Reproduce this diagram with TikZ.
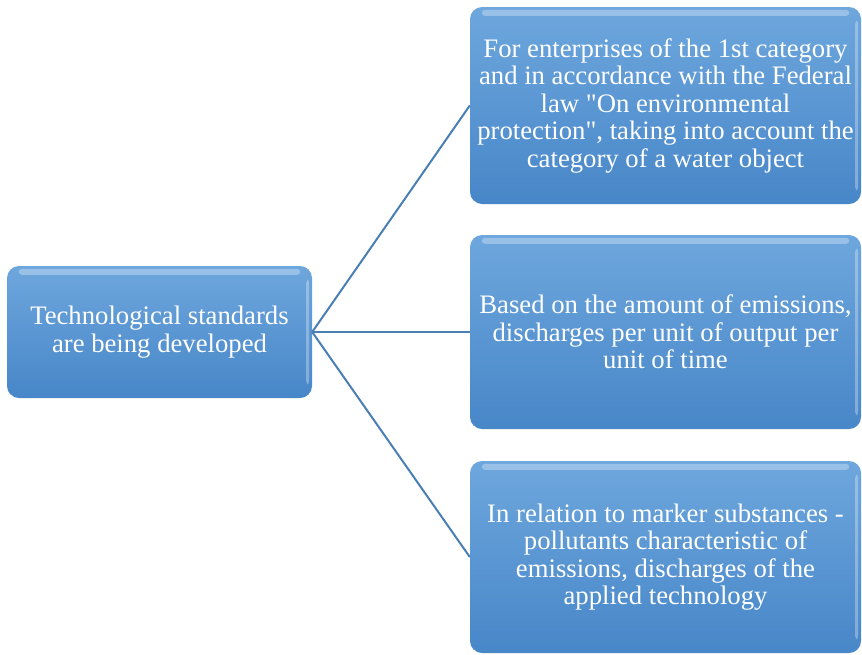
\documentclass[tikz,border=0pt]{standalone}
\usepackage{fontspec}
\setmainfont{Liberation Serif}[Ligatures=TeXOff]
\definecolor{boxtop}{HTML}{6EA7DD}
\definecolor{boxbot}{HTML}{4786C8}
\definecolor{linkcol}{HTML}{4A7FB3}
\begin{document}
\begin{tikzpicture}[x=1pt,y=-1pt,
  box/.style={rounded corners=12pt, draw=none, top color=boxtop, bottom color=boxbot,
    inner sep=0pt, text=white, font=\fontsize{26.7}{27.5}\selectfont, align=center},
  link/.style={draw=linkcol, line width=2pt},
  gloss/.style={fill=white, opacity=0.3, rounded corners=3pt}]
\useasboundingbox (0,0) rectangle (862,654);
\node[box, minimum width=305pt, minimum height=132pt] (root) at (159.5,332) {Technological standards\\are being developed};
\node[box, minimum width=391pt, minimum height=197pt] (a) at (665.5,105.5) {For enterprises of the 1st category\\and in accordance with the Federal\\law "On environmental\\protection", taking into account the\\category of a water object};
\node[box, minimum width=391pt, minimum height=194pt] (b) at (665.5,332) {Based on the amount of emissions,\\discharges per unit of output per\\unit of time};
\node[box, minimum width=391pt, minimum height=192pt] (c) at (665.5,557) {In relation to marker substances -\\pollutants characteristic of\\emissions, discharges of the\\applied technology};
\foreach \n in {root,a,b,c}{
  \fill[gloss] ([xshift=12pt,yshift=-3pt]\n.north west) rectangle ([xshift=-12pt,yshift=-9pt]\n.north east);
  \fill[gloss] ([xshift=-6pt,yshift=-14pt]\n.north east) rectangle ([xshift=-3pt,yshift=14pt]\n.south east);
  \fill[white, opacity=0.7] ([xshift=4pt,yshift=4pt]\n.south west) arc[start angle=180, end angle=270, radius=8pt] -- cycle;
}
\draw[link] (root.east) -- (a.west);
\draw[link] (root.east) -- (b.west);
\draw[link] (root.east) -- (c.west);
\end{tikzpicture}
\end{document}
